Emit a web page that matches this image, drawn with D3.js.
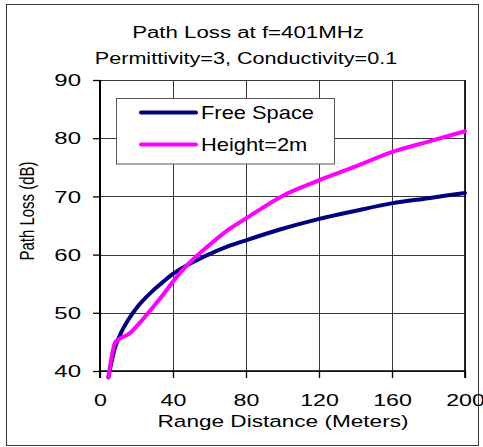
<!DOCTYPE html>
<html>
<head>
<meta charset="utf-8">
<script src="https://cdn.jsdelivr.net/npm/d3@7"></script>
<style>
  html, body { margin: 0; padding: 0; background: #fff; }
  svg { display: block; font-family: "Liberation Sans", Arial, Helvetica, sans-serif; }
</style>
</head>
<body>
<svg id="chart" width="483" height="447"></svg>
<script>
// Range samples (meters) and path loss (dB) for each propagation model
const distance   = [4.6, 8.2, 11, 15.5, 21, 28.3, 33.8, 39.6, 48.4, 59.4, 70, 80.4, 99.5, 119.6, 139.7, 159.8, 179.9, 200];
const freeSpace  = [38.9, 44.0, 46.2, 48.8, 51.2, 53.6, 55.1, 56.6, 58.3, 60.0, 61.4, 62.5, 64.4, 66.1, 67.5, 68.8, 69.7, 70.6];
const height2m   = [38.9, 44.8, 45.6, 46.3, 48.0, 50.7, 52.8, 55.2, 58.4, 61.5, 64.2, 66.3, 70.0, 72.7, 75.1, 77.6, 79.4, 81.2];

const seriesNames  = ["Free Space", "Height=2m"];
const xTicks       = [0, 40, 80, 120, 160, 200];
const yTicks       = [40, 50, 60, 70, 80, 90];
const titleLines   = ["Path Loss at f=401MHz", "Permittivity=3, Conductivity=0.1"];
const xAxisTitle   = "Range Distance (Meters)";
const yAxisTitle   = "Path Loss (dB)";

const colors = ["#000080", "#ff00ff"];

const svg = d3.select("#chart");

// plot region
const plotLeft = 100, plotRight = 465, plotTop = 80, plotBottom = 371;

const x = d3.scaleLinear().domain([0, 200]).range([plotLeft, plotRight]);
const y = d3.scaleLinear().domain([40, 90]).range([plotBottom, plotTop]);

// outer frame
svg.append("rect")
  .attr("x", 6.5).attr("y", 4.5).attr("width", 472).attr("height", 441)
  .attr("fill", "#fff").attr("stroke", "#3a3a3a").attr("stroke-width", 1);

// wide text helper: glyphs are drawn horizontally stretched
function wideText(px, py, str, size, sx, anchor) {
  return svg.append("text")
    .attr("transform", `translate(${px},${py}) scale(${sx},1)`)
    .attr("text-anchor", anchor || "middle")
    .attr("font-size", size)
    .attr("fill", "#000")
    .text(str);
}

// titles
wideText(248, 38, titleLines[0], 16, 1.39);
wideText(246, 64, titleLines[1], 16, 1.35);

// grid: one outlined cell per pair of neighbouring ticks
const cells = [];
for (let i = 0; i < xTicks.length - 1; i++) {
  for (let j = 0; j < yTicks.length - 1; j++) {
    cells.push({ x0: xTicks[i], x1: xTicks[i + 1], y0: yTicks[j], y1: yTicks[j + 1] });
  }
}
const snap = v => Math.round(v) + 0.5;
svg.append("g").selectAll("rect").data(cells).join("rect")
  .attr("x", c => snap(x(c.x0)))
  .attr("y", c => snap(y(c.y1)))
  .attr("width", c => snap(x(c.x1)) - snap(x(c.x0)))
  .attr("height", c => snap(y(c.y0)) - snap(y(c.y1)))
  .attr("fill", "none")
  .attr("stroke", "#383838")
  .attr("stroke-width", 1);

// right edge of the plot area
svg.append("line").attr("x1", plotRight).attr("x2", plotRight).attr("y1", plotTop).attr("y2", plotBottom + 7)
  .attr("stroke", "#111").attr("stroke-width", 1.8);

// axes
const xAxis = d3.axisBottom(x).tickValues(xTicks).tickSize(7).tickPadding(0).tickFormat(d3.format("d"));
const yAxis = d3.axisLeft(y).tickValues(yTicks).tickSize(7).tickPadding(0).tickFormat(d3.format("d"));

const gx = svg.append("g").attr("transform", `translate(0,${plotBottom})`).call(xAxis);
gx.select(".domain").attr("stroke", "#000").attr("stroke-width", 1.6).attr("d", `M${plotLeft},0H${plotRight}`);
gx.selectAll(".tick line").attr("stroke", "#000").attr("stroke-width", 1.3);
gx.selectAll(".tick text")
  .attr("font-size", 16).attr("fill", "#000")
  .attr("y", 35).attr("dy", null)
  .attr("transform", "scale(1.45,1)");
gx.attr("font-family", null);

const gy = svg.append("g").attr("transform", `translate(${plotLeft},0)`).call(yAxis);
gy.select(".domain").attr("stroke", "#000").attr("stroke-width", 2).attr("d", `M0,${plotTop}V${plotBottom + 7}`);
gy.selectAll(".tick line").attr("stroke", "#000").attr("stroke-width", 1.3);
gy.selectAll(".tick text")
  .attr("font-size", 16).attr("fill", "#000")
  .attr("x", -19 / 1.5).attr("dy", "0.36em")
  .attr("transform", "scale(1.5,1)");
gy.attr("font-family", null);

// axis titles
wideText(283, 427, xAxisTitle, 16.5, 1.37);
svg.append("text")
  .attr("transform", `translate(34,211) scale(1.35,1) rotate(-90)`)
  .attr("text-anchor", "middle").attr("font-size", 15).attr("fill", "#000")
  .text(yAxisTitle);

// series lines
const series = [freeSpace, height2m];
const pathGen = d3.line()
  .x((d, i) => x(distance[i]))
  .y(d => y(d))
  .curve(d3.curveMonotoneX);

svg.append("g").selectAll("path").data(series).join("path")
  .attr("d", d => pathGen(d))
  .attr("fill", "none")
  .attr("stroke", (d, i) => colors[i])
  .attr("stroke-width", 4)
  .attr("stroke-linejoin", "round")
  .attr("stroke-linecap", "round");

// legend
const lg = svg.append("g");
lg.append("rect")
  .attr("x", 116.5).attr("y", 98.5).attr("width", 218).attr("height", 65.5)
  .attr("fill", "#fff").attr("stroke", "#555").attr("stroke-width", 1);
seriesNames.forEach((name, i) => {
  const ly = 112.5 + i * 32;
  lg.append("line").attr("x1", 141).attr("x2", 196).attr("y1", ly).attr("y2", ly)
    .attr("stroke", colors[i]).attr("stroke-width", 4).attr("stroke-linecap", "round");
  lg.append("text")
    .attr("transform", `translate(201,${ly + 6.5}) scale(1.25,1)`)
    .attr("font-size", 17.5).attr("fill", "#000")
    .text(name);
});
</script>
</body>
</html>
